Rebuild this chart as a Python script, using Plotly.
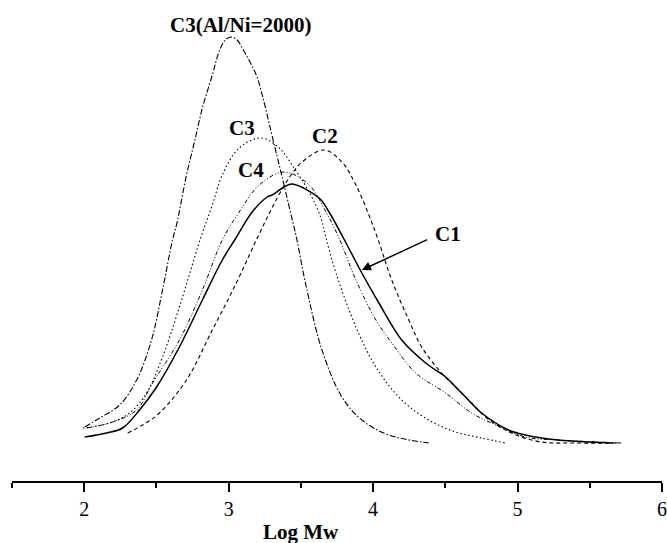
import plotly.graph_objects as go

# Log Mw values and distribution heights (arbitrary units)
c3al_x = [2.004, 2.107, 2.245, 2.363, 2.466, 2.542, 2.611, 2.639, 2.708, 2.763, 2.818, 2.887, 2.935, 2.977,
          3.018, 3.059, 3.094, 3.191, 3.225, 3.260, 3.301, 3.370, 3.439, 3.467, 3.536, 3.646, 3.784,
          3.922, 4.109, 4.385]
c3al_y = [54, 63, 76, 101, 141, 191, 241, 256, 306, 339, 373, 406, 430, 441,
          444, 441, 433, 406, 390, 370, 345, 304, 262, 245, 195, 131, 84,
          61, 46, 38]

c3_x = [1.990, 2.176, 2.314, 2.432, 2.542, 2.659, 2.804, 2.887, 2.956, 3.073, 3.225, 3.350, 3.439, 3.557,
        3.639, 3.674, 3.743, 3.881, 4.019, 4.198, 4.385, 4.571, 4.751, 4.916]
c3_y = [53, 58, 68, 88, 124, 174, 242, 276, 306, 333, 343, 333, 316, 289,
        263, 243, 208, 154, 114, 81, 61, 49, 43, 38]

c4_x = [2.018, 2.197, 2.363, 2.473, 2.659, 2.818, 2.956, 3.073, 3.212, 3.384, 3.557, 3.674, 3.764, 3.881,
        4.019, 4.129, 4.295, 4.502, 4.682, 4.820, 5.054, 5.282, 5.558, 5.717]
c4_y = [53, 59, 71, 98, 141, 191, 241, 269, 296, 309, 296, 269, 243, 201,
        161, 138, 108, 88, 68, 58, 44, 41, 39, 38]

c1_x = [2.004, 2.156, 2.266, 2.383, 2.501, 2.659, 2.818, 2.956, 3.046, 3.163, 3.267, 3.301, 3.384, 3.439,
        3.626, 3.695, 3.798, 3.922, 4.040, 4.198, 4.364, 4.502, 4.592, 4.640, 4.751, 4.937, 5.054, 5.282,
        5.510, 5.662]
c1_y = [44, 48, 53, 71, 94, 134, 181, 221, 242, 269, 284, 286, 294, 297,
        283, 269, 242, 208, 178, 141, 118, 104, 91, 84, 68, 51, 46, 41,
        39, 38]

c2_x = [2.301, 2.404, 2.521, 2.708, 2.887, 3.053, 3.198, 3.336, 3.432, 3.508, 3.660, 3.784, 3.881, 3.971,
        4.033, 4.129, 4.247, 4.336, 4.474, 4.571, 4.682, 4.778, 4.958, 5.165, 5.399, 5.717]
c2_y = [48, 56, 68, 101, 151, 198, 243, 283, 306, 319, 331, 319, 296, 266,
        242, 201, 161, 134, 108, 94, 78, 64, 48, 39, 38, 38]

x_ticks = [2, 3, 4, 5, 6]

FONT = "Liberation Serif"

fig = go.Figure()
fig.add_trace(go.Scatter(x=c3al_x, y=c3al_y, mode="lines", name="C3(Al/Ni=2000)",
                         line=dict(color="black", width=1.1, dash="6px,2px,1.5px,2px"),
                         line_shape="spline"))
fig.add_trace(go.Scatter(x=c3_x, y=c3_y, mode="lines", name="C3",
                         line=dict(color="black", width=1.1, dash="1.5px,2.5px"),
                         line_shape="spline"))
fig.add_trace(go.Scatter(x=c4_x, y=c4_y, mode="lines", name="C4",
                         line=dict(color="black", width=1.0, dash="4px,2px,1px,2px,1px,2px"),
                         line_shape="spline"))
fig.add_trace(go.Scatter(x=c2_x, y=c2_y, mode="lines", name="C2",
                         line=dict(color="black", width=1.1, dash="4px,3px"),
                         line_shape="spline"))
fig.add_trace(go.Scatter(x=c1_x, y=c1_y, mode="lines", name="C1",
                         line=dict(color="black", width=1.5),
                         line_shape="spline"))

labels = [("C3(Al/Ni=2000)", 3.080, 456), ("C3", 3.094, 353), ("C4", 3.156, 311),
          ("C2", 3.667, 345), ("C1", 4.516, 247)]
for txt, lx, ly in labels:
    fig.add_annotation(x=lx, y=ly, text="<b>%s</b>" % txt, showarrow=False,
                       font=dict(family=FONT, size=21, color="black"),
                       xanchor="center", yanchor="middle")

# arrow pointing to C1
fig.add_annotation(x=3.922, y=211, ax=4.385, ay=242, axref="x", ayref="y",
                   text="", showarrow=True, arrowhead=2, arrowsize=1.3,
                   arrowwidth=1.4, arrowcolor="black")

fig.add_annotation(x=3.5, y=-0.108, xref="x", yref="paper", text="<b>Log Mw</b>",
                   showarrow=False, font=dict(family=FONT, size=21, color="black"),
                   xanchor="center", yanchor="middle")

fig.update_layout(
    width=667, height=543,
    margin=dict(l=12, r=5, t=10, b=62, autoexpand=False),
    paper_bgcolor="white", plot_bgcolor="white",
    showlegend=False,
    font=dict(family=FONT, color="black"),
    xaxis=dict(range=[1.5, 6], tickvals=x_ticks, ticks="outside", ticklen=9, tickwidth=1.5,
               tickcolor="black", showline=True, linecolor="black", linewidth=2,
               showgrid=False, zeroline=False, ticklabeloverflow="allow", automargin=False,
               tickfont=dict(family=FONT, size=20, color="black"),
               minor=dict(dtick=0.5, tick0=0, ticks="outside", ticklen=5, tickwidth=1.5,
                          tickcolor="black", showgrid=False)),
    yaxis=dict(range=[0, 471], visible=False, showgrid=False, zeroline=False),
)

fig.write_html("out.html")
